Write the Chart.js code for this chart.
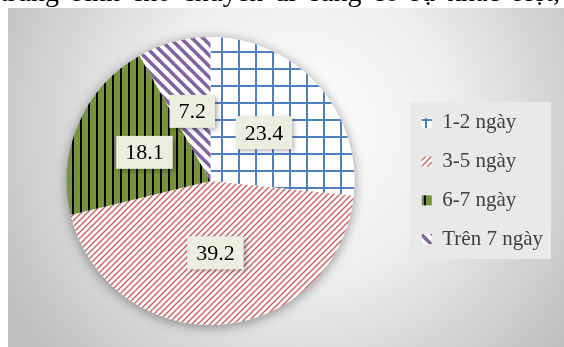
<!DOCTYPE html>
<html lang="vi">
<head>
<meta charset="utf-8">
<script src="https://cdn.jsdelivr.net/npm/chart.js@4/dist/chart.umd.min.js"></script>
<style>
    html, body { margin: 0; padding: 0; background: #fff; overflow: hidden; }
    #wrap { position: relative; width: 564px; height: 347px; }
    #chart { position: absolute; left: 0; top: 0; }
    #caption {
        position: absolute; left: 0; top: -22px; width: 560px;
        font-family: "Liberation Serif", "Times New Roman", serif;
        font-size: 28px; line-height: 28px; color: #000;
        white-space: nowrap; text-align: justify; text-align-last: justify;
        z-index: 2;
    }
</style>
</head>
<body>
<div id="wrap">
    <div id="caption">trung bình cho chuyến đi cũng có sự khác biệt,</div>
    <canvas id="chart" width="564" height="347"></canvas>
</div>
<script>
// Chart data
const categories = ['1-2 ngày', '3-5 ngày', '6-7 ngày', 'Trên 7 ngày'];
const values = [23.4, 39.2, 18.1, 7.2];

const serif = '"Liberation Serif", "Times New Roman", serif';

// Pattern fills (Excel-style hatches)
function makePattern(size, draw) {
    const c = document.createElement('canvas');
    c.width = size;
    c.height = size;
    const g = c.getContext('2d');
    draw(g, size);
    return document.getElementById('chart').getContext('2d').createPattern(c, 'repeat');
}

const patterns = [
    // blue large grid
    makePattern(17, (g, s) => {
        g.fillStyle = '#ffffff';
        g.fillRect(0, 0, s, s);
        g.fillStyle = '#4f81bd';
        g.fillRect(0, 0, 2, s);
        g.fillRect(0, 0, s, 2);
    }),
    // red narrow upward diagonal
    makePattern(6, (g, s) => {
        g.fillStyle = '#ffffff';
        g.fillRect(0, 0, s, s);
        g.strokeStyle = '#c9595a';
        g.lineWidth = 1.3;
        [-s, 0, s].forEach(o => {
            g.beginPath();
            g.moveTo(o - 1, s + 1);
            g.lineTo(o + s + 1, -1);
            g.stroke();
        });
    }),
    // green with black vertical stripes
    makePattern(8, (g, s) => {
        g.fillStyle = '#77933c';
        g.fillRect(0, 0, s, s);
        g.fillStyle = '#000000';
        g.fillRect(0, 0, 2, s);
    }),
    // purple wide downward diagonal
    makePattern(11, (g, s) => {
        g.fillStyle = '#ffffff';
        g.fillRect(0, 0, s, s);
        g.strokeStyle = '#8064a2';
        g.lineWidth = 3.6;
        [-s, 0, s].forEach(o => {
            g.beginPath();
            g.moveTo(o - 1, -1);
            g.lineTo(o + s + 1, s + 1);
            g.stroke();
        });
    })
];

// Frame background, legend panel and pie shadow
const backgroundPlugin = {
    id: 'frameBackground',
    beforeDraw(chart) {
        const ctx = chart.ctx;
        ctx.save();
        ctx.fillStyle = '#ffffff';
        ctx.fillRect(0, 0, chart.width, chart.height);
        const grad = ctx.createRadialGradient(300, 130, 0, 300, 130, 340);
        grad.addColorStop(0, '#ffffff');
        grad.addColorStop(0.45, '#eeeeee');
        grad.addColorStop(1, '#bebebe');
        ctx.fillStyle = grad;
        ctx.fillRect(8, 8, chart.width - 8, chart.height - 8);
        ctx.fillStyle = '#e9e9e9';
        ctx.fillRect(410, 102, 141, 157);
        ctx.restore();
    },
    beforeDatasetsDraw(chart) {
        const arc = chart.getDatasetMeta(0).data[0];
        if (!arc) return;
        const ctx = chart.ctx;
        ctx.save();
        ctx.shadowColor = 'rgba(0, 0, 0, 0.4)';
        ctx.shadowBlur = 12;
        ctx.shadowOffsetY = 2;
        ctx.fillStyle = '#ffffff';
        ctx.beginPath();
        ctx.arc(arc.x, arc.y, arc.outerRadius, 0, Math.PI * 2);
        ctx.fill();
        ctx.restore();
    }
};

// Value labels in boxes
const valueLabelPlugin = {
    id: 'valueLabels',
    afterDatasetsDraw(chart) {
        const ctx = chart.ctx;
        const meta = chart.getDatasetMeta(0);
        ctx.save();
        ctx.font = '22px ' + serif;
        ctx.textAlign = 'center';
        ctx.textBaseline = 'middle';
        meta.data.forEach((arc, i) => {
            const pos = arc.tooltipPosition();
            const text = values[i].toFixed(1);
            const w = ctx.measureText(text).width + 18;
            const h = 33;
            ctx.save();
            ctx.shadowColor = 'rgba(0, 0, 0, 0.35)';
            ctx.shadowBlur = 5;
            ctx.shadowOffsetX = 2;
            ctx.shadowOffsetY = 2;
            ctx.fillStyle = '#eceee0';
            ctx.fillRect(pos.x - w / 2, pos.y - h / 2, w, h);
            ctx.restore();
            ctx.fillStyle = '#000000';
            ctx.fillText(text, pos.x, pos.y + 1);
        });
        ctx.restore();
    }
};

new Chart(document.getElementById('chart'), {
    type: 'pie',
    data: {
        labels: categories,
        datasets: [{
            data: values,
            backgroundColor: patterns,
            borderWidth: 0
        }]
    },
    options: {
        responsive: false,
        devicePixelRatio: 1,
        animation: false,
        layout: {
            padding: { top: 37, bottom: 22, left: 17, right: 11 }
        },
        plugins: {
            legend: {
                position: 'right',
                labels: {
                    boxWidth: 10,
                    boxHeight: 10,
                    padding: 17.7,
                    color: '#404040',
                    font: { size: 21, family: serif }
                }
            },
            tooltip: { enabled: false }
        }
    },
    plugins: [backgroundPlugin, valueLabelPlugin]
});
</script>
</body>
</html>
